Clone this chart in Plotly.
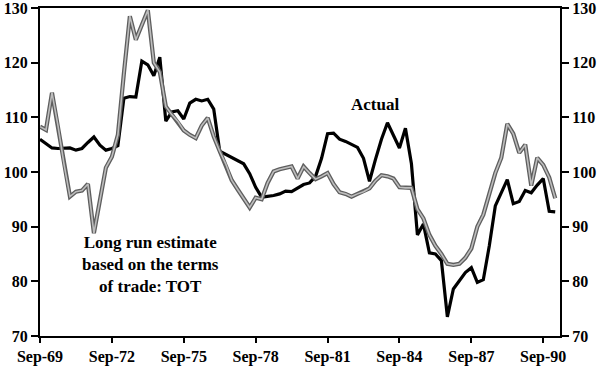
import plotly.graph_objects as go

# Quarterly, Sep-69 .. Mar-91
months = ["Mar", "Jun", "Sep", "Dec"]
quarters = []
y, q = 1969, 2
for _ in range(87):
    quarters.append(f"{months[q]}-{y % 100:02d}")
    q += 1
    if q == 4:
        q = 0
        y += 1

actual = [106.0, 105.2, 104.4, 104.3, 104.3, 104.4, 104.0, 104.3, 105.4, 106.4,
          104.9, 104.0, 104.3, 104.8, 113.5, 113.8, 113.7, 120.3, 119.6, 117.6,
          121.0, 109.3, 111.0, 111.2, 109.7, 112.6, 113.3, 113.0, 113.3, 111.5,
          103.8, 103.2, 102.7, 102.1, 101.5, 99.7, 97.2, 95.4, 95.5, 95.7,
          96.0, 96.5, 96.4, 97.0, 97.7, 98.0, 99.2, 102.5, 107.0, 107.1,
          106.0, 105.6, 105.0, 104.5, 102.5, 98.3, 102.3, 106.0, 109.0, 106.8,
          104.4, 108.0, 101.5, 88.5, 90.5, 85.2, 85.0, 83.8, 73.5, 78.6,
          80.1, 81.6, 82.5, 79.8, 80.3, 86.5, 93.8, 96.3, 98.6, 94.2,
          94.6, 96.6, 96.2, 97.6, 98.8, 92.8, 92.7]

tot_estimate = [108.3, 107.7, 114.5, 108.5, 101.5, 95.5, 96.4, 96.6, 97.8, 88.8,
                94.8, 100.8, 102.8, 106.8, 118.0, 128.5, 124.2, 127.0, 129.6, 120.0,
                118.3, 112.0, 110.5, 109.3, 107.6, 106.8, 106.2, 108.5, 109.9, 106.5,
                103.8, 101.5, 98.5, 96.8, 95.2, 93.5, 95.3, 95.0, 98.0, 100.1,
                100.5, 100.7, 101.0, 98.8, 101.0, 99.8, 98.7, 99.2, 99.8, 97.8,
                96.3, 96.0, 95.5, 96.0, 96.4, 97.0, 98.4, 99.4, 99.2, 98.8,
                97.2, 97.1, 97.1, 93.2, 91.5, 88.5, 86.5, 85.0, 83.2, 83.0,
                83.2, 84.3, 86.0, 90.0, 92.2, 96.0, 99.8, 102.6, 108.8, 107.0,
                103.5, 105.0, 97.5, 102.6, 101.3, 99.0, 95.2]

tick_labels = ["Sep-69", "Sep-72", "Sep-75", "Sep-78", "Sep-81", "Sep-84", "Sep-87", "Sep-90"]
y_ticks = [70, 80, 90, 100, 110, 120, 130]

font = "Liberation Serif"
tfont = dict(family=font, size=16, color="black", weight="bold")
x_idx = list(range(len(quarters)))

fig = go.Figure()
fig.add_trace(go.Scatter(x=x_idx, y=actual, mode="lines",
                         line=dict(color="black", width=3.2), showlegend=False))
fig.add_trace(go.Scatter(x=x_idx, y=tot_estimate, mode="lines",
                         line=dict(color="#5e5e5e", width=4.2), showlegend=False))
fig.add_trace(go.Scatter(x=x_idx, y=tot_estimate, mode="lines",
                         line=dict(color="#bdbdbd", width=1.6), showlegend=False))
# invisible trace for right axis
fig.add_trace(go.Scatter(x=[0], y=[100], yaxis="y2", mode="none",
                         showlegend=False, hoverinfo="skip"))

tickvals = [quarters.index(t) for t in tick_labels]

fig.update_layout(
    template="none",
    width=600, height=370,
    margin=dict(l=40, r=40, t=8, b=34, autoexpand=False),
    paper_bgcolor="white", plot_bgcolor="white",
    font=dict(family=font, size=16, color="black"),
    xaxis=dict(range=[0, 86.8], tickvals=tickvals, ticktext=tick_labels,
               automargin=False, ticklabeloverflow="allow", showgrid=False,
               zeroline=False, showline=True, linecolor="black", linewidth=2,
               mirror=True, ticks="outside", ticklen=5, tickwidth=1.5,
               tickcolor="black", tickfont=tfont),
    yaxis=dict(range=[70, 130], tickvals=y_ticks, automargin=False,
               ticklabeloverflow="allow", showgrid=False, zeroline=False,
               showline=True, linecolor="black", linewidth=2, ticks="outside",
               ticklen=7, tickwidth=1.5, tickcolor="black", tickfont=tfont),
    yaxis2=dict(range=[70, 130], tickvals=y_ticks, overlaying="y", side="right",
                automargin=False, ticklabeloverflow="allow", showgrid=False,
                zeroline=False, showline=True, linecolor="black", linewidth=2,
                ticks="outside", ticklen=7, tickwidth=1.5, tickcolor="black",
                tickfont=tfont),
    annotations=[
        dict(x=56.0, y=112.3, xref="x", yref="y", text="<b>Actual</b>", showarrow=False,
             font=dict(family=font, size=17, color="black")),
        dict(x=18.5, y=83.0, xref="x", yref="y",
             text="<b>Long run estimate<br>based on the terms<br>of trade: TOT</b>",
             showarrow=False, align="center",
             font=dict(family=font, size=17, color="black")),
    ],
)

fig.write_html("out.html", config={"displayModeBar": False},
               post_script="document.body.style.margin='0';document.body.style.overflow='hidden';")
